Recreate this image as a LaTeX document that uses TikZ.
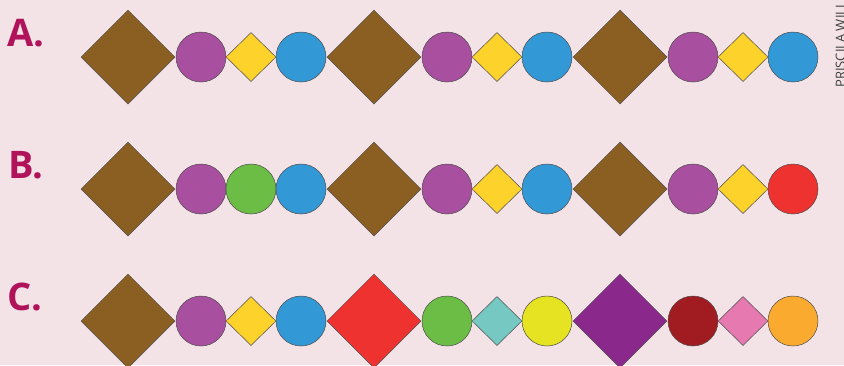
\documentclass[tikz,border=0pt]{standalone}
\usepackage{fontspec}
\setmainfont{Open Sans}
\usetikzlibrary{shapes.geometric}
\definecolor{bg}{HTML}{F4E3E6}
\definecolor{lbl}{HTML}{B0135A}
\definecolor{brn}{HTML}{8B5E22}
\definecolor{pur}{HTML}{A94F9F}
\definecolor{yel}{HTML}{FDD22A}
\definecolor{blu}{HTML}{3399D6}
\definecolor{grn}{HTML}{6CBD45}
\definecolor{red1}{HTML}{EE3230}
\definecolor{teal1}{HTML}{76C9C2}
\definecolor{lim}{HTML}{E5E322}
\definecolor{dpur}{HTML}{8B288C}
\definecolor{dred}{HTML}{A01C21}
\definecolor{pnk}{HTML}{E579B0}
\definecolor{org}{HTML}{FBAA30}
\tikzset{
  shp/.style={draw=black!70, line width=0.5pt, inner sep=0pt},
  bigd/.style={shp, diamond, minimum width=94pt, minimum height=94pt},
  smd/.style={shp, diamond, minimum width=50pt, minimum height=49pt},
  circ/.style={shp, circle, minimum size=50pt},
  rowlabel/.style={text=lbl, font=\fontsize{38}{38}\selectfont\bfseries, anchor=center},
}
\begin{document}
\begin{tikzpicture}[x=1pt,y=-1pt]
\useasboundingbox (0,0) rectangle (844,365);
\clip (0,0) rectangle (844,365);
\fill[bg] (0,0) rectangle (844,365);
% labels
\node[rowlabel] (la) at (26,33) {A.};
\node[rowlabel] (lb) at (26,165) {B.};
\node[rowlabel] (lc) at (25,297) {C.};
\node[rotate=90, anchor=base west, text=black!75, font=\fontsize{13}{13}\selectfont, inner sep=0pt] (credit) at (845,88) {PRISCILA WILLIAMS};
% row A
\node[bigd, fill=brn] (a1) at (128,57) {};
\node[circ, fill=pur] (a2) at (201,57) {};
\node[smd, fill=yel] (a3) at (251,57) {};
\node[circ, fill=blu] (a4) at (301,57) {};
\node[bigd, fill=brn] (a5) at (374,57) {};
\node[circ, fill=pur] (a6) at (447,57) {};
\node[smd, fill=yel] (a7) at (497,57) {};
\node[circ, fill=blu] (a8) at (547,57) {};
\node[bigd, fill=brn] (a9) at (620,57) {};
\node[circ, fill=pur] (a10) at (693,57) {};
\node[smd, fill=yel] (a11) at (743,57) {};
\node[circ, fill=blu] (a12) at (793,57) {};
% row B
\node[bigd, fill=brn] (b1) at (128,189) {};
\node[circ, fill=pur] (b2) at (201,189) {};
\node[circ, fill=grn] (b3) at (251,189) {};
\node[circ, fill=blu] (b4) at (301,189) {};
\node[bigd, fill=brn] (b5) at (374,189) {};
\node[circ, fill=pur] (b6) at (447,189) {};
\node[smd, fill=yel] (b7) at (497,189) {};
\node[circ, fill=blu] (b8) at (547,189) {};
\node[bigd, fill=brn] (b9) at (620,189) {};
\node[circ, fill=pur] (b10) at (693,189) {};
\node[smd, fill=yel] (b11) at (743,189) {};
\node[circ, fill=red1] (b12) at (793,189) {};
% row C
\node[bigd, fill=brn] (c1) at (128,321) {};
\node[circ, fill=pur] (c2) at (201,321) {};
\node[smd, fill=yel] (c3) at (251,321) {};
\node[circ, fill=blu] (c4) at (301,321) {};
\node[bigd, fill=red1] (c5) at (374,321) {};
\node[circ, fill=grn] (c6) at (447,321) {};
\node[smd, fill=teal1] (c7) at (497,321) {};
\node[circ, fill=lim] (c8) at (547,321) {};
\node[bigd, fill=dpur] (c9) at (620,321) {};
\node[circ, fill=dred] (c10) at (693,321) {};
\node[smd, fill=pnk] (c11) at (743,321) {};
\node[circ, fill=org] (c12) at (793,321) {};
\end{tikzpicture}
\end{document}
